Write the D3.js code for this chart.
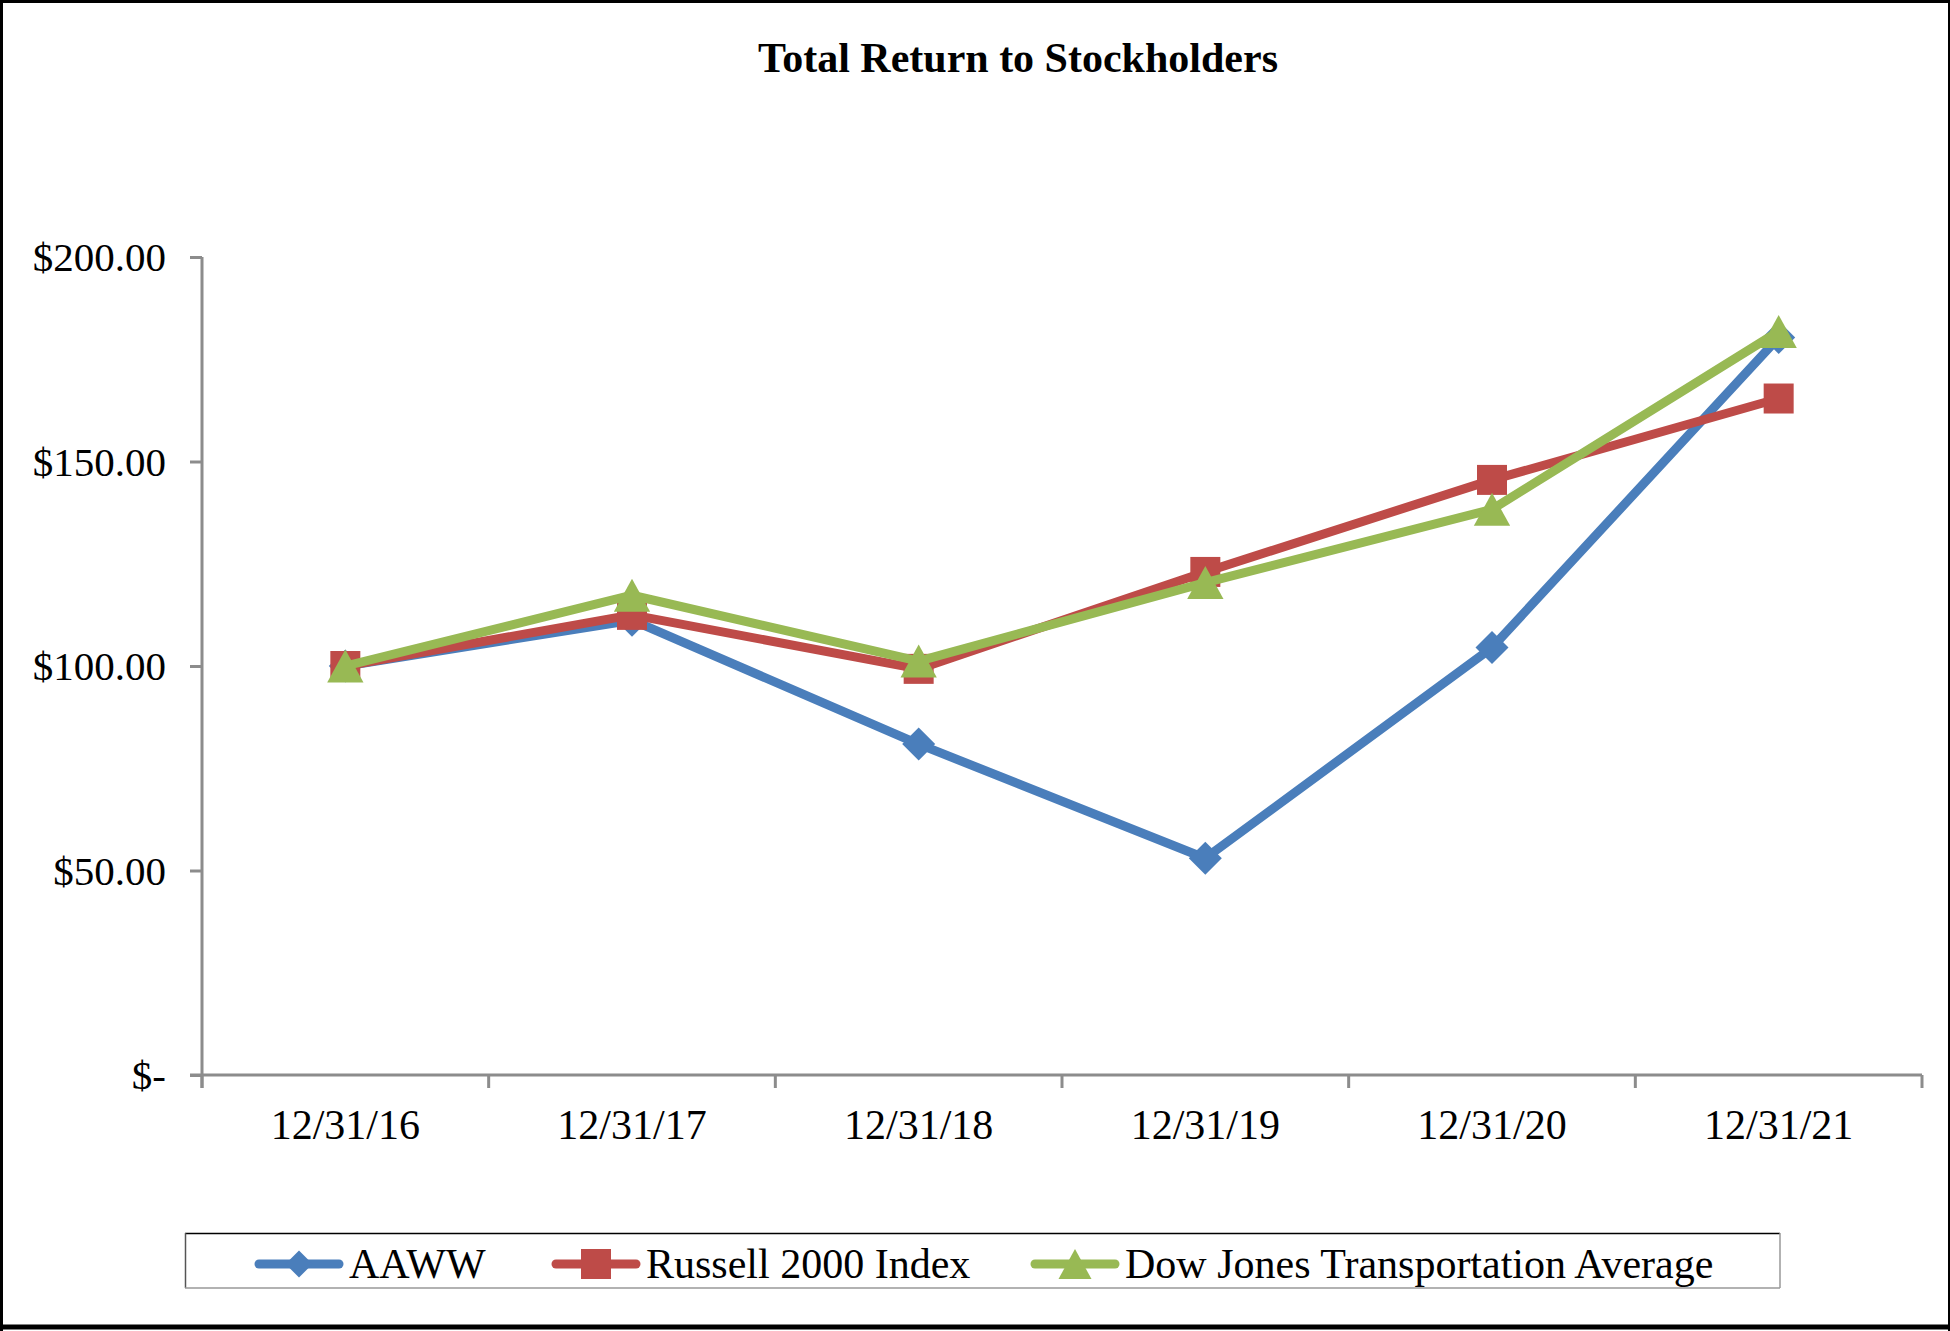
<!DOCTYPE html>
<html>
<head>
<meta charset="utf-8">
<script src="https://cdn.jsdelivr.net/npm/d3@7"></script>
<style>
  html, body { margin: 0; padding: 0; background: #fff; }
  svg { display: block; }
  text { font-family: "Liberation Serif", "Times New Roman", serif; fill: #000; }
</style>
</head>
<body>
<svg id="chart" width="1950" height="1331"></svg>
<script>
const title = "Total Return to Stockholders";
const categories = ["12/31/16", "12/31/17", "12/31/18", "12/31/19", "12/31/20", "12/31/21"];
const aawwValues = [100.00, 111.2, 80.9, 53.0, 104.5, 180.3];
const russellValues = [100.00, 112.5, 99.3, 123.0, 145.5, 165.4];
const dowValues = [100.00, 117.3, 101.2, 120.4, 138.3, 181.8];
const yTicks = [0, 50, 100, 150, 200];
const seriesNames = ["AAWW", "Russell 2000 Index", "Dow Jones Transportation Average"];
const seriesColors = ["#4A7EBB", "#BE4B48", "#98B954"];
const seriesMarkers = ["diamond", "square", "triangle"];

const series = [aawwValues, russellValues, dowValues].map((vals, i) => ({
  name: seriesNames[i], color: seriesColors[i], marker: seriesMarkers[i],
  values: vals.map((v, j) => ({ cat: categories[j], v }))
}));

const svg = d3.select("#chart");
const W = 1950, H = 1331;

// outer border
svg.append("rect").attr("x", 1).attr("y", 1).attr("width", W - 2).attr("height", H - 2)
  .attr("fill", "#fff").attr("stroke", "none");
svg.append("line").attr("x1", 0).attr("x2", W).attr("y1", 1.5).attr("y2", 1.5).attr("stroke", "#000").attr("stroke-width", 3);
svg.append("line").attr("x1", 1.5).attr("x2", 1.5).attr("y1", 0).attr("y2", H).attr("stroke", "#000").attr("stroke-width", 3);
svg.append("line").attr("x1", W - 1).attr("x2", W - 1).attr("y1", 0).attr("y2", H).attr("stroke", "#000").attr("stroke-width", 2);
svg.append("line").attr("x1", 0).attr("x2", W).attr("y1", 1327).attr("y2", 1327).attr("stroke", "#000").attr("stroke-width", 5);

// title
svg.append("text").attr("x", 1018).attr("y", 72).attr("text-anchor", "middle")
  .attr("font-size", 42).attr("font-weight", "bold").text(title);

const plot = { left: 202, right: 1922, top: 257, bottom: 1075 };
const x = d3.scaleBand().domain(categories).range([plot.left, plot.right]).padding(0);
const y = d3.scaleLinear().domain([0, 200]).range([plot.bottom, plot.top]);

const axisColor = "#8C8C8C";

// y axis
const yAxis = svg.append("g").attr("transform", `translate(${plot.left},0)`)
  .call(d3.axisLeft(y).tickValues(yTicks).tickSize(12).tickPadding(24)
    .tickFormat(d => d === 0 ? "$-" : "$" + d3.format(".2f")(d)));
yAxis.select(".domain").attr("stroke", axisColor).attr("stroke-width", 3)
  .attr("d", `M0,${plot.top}V${plot.bottom + 13}`);
yAxis.selectAll(".tick line").attr("stroke", axisColor).attr("stroke-width", 3);
yAxis.selectAll(".tick text").attr("font-size", 41).attr("font-family", "Liberation Serif, serif")
  .attr("fill", "#000").attr("dy", "0.33em");

// x axis
const xAxis = svg.append("g").attr("transform", `translate(0,${plot.bottom})`)
  .call(d3.axisBottom(x).tickSize(0).tickPadding(62));
xAxis.select(".domain").attr("stroke", axisColor).attr("stroke-width", 3)
  .attr("d", `M${plot.left - 12},0H${plot.right}`);
xAxis.selectAll(".tick text").attr("font-size", 42).attr("font-family", "Liberation Serif, serif")
  .attr("fill", "#000").attr("dy", "0.05em");
// category boundary ticks
const bounds = categories.map(c => x(c)).concat([plot.right]);
svg.append("g").selectAll("line").data(bounds).join("line")
  .attr("x1", d => d).attr("x2", d => d)
  .attr("y1", plot.bottom).attr("y2", plot.bottom + 13)
  .attr("stroke", axisColor).attr("stroke-width", 3);

function markerPath(type, s) {
  if (type === "diamond") {
    const h = s / 2;
    return `M0,${-h}L${h},0L0,${h}L${-h},0Z`;
  }
  if (type === "square") {
    const h = s / 2;
    return `M${-h},${-h}H${h}V${h}H${-h}Z`;
  }
  const w = s * 1.1 / 2, h = s / 2;
  return `M0,${-h}L${w},${h}L${-w},${h}Z`;
}
const markerSizes = { diamond: 33, square: 30, triangle: 33 };

const line = d3.line().x(d => x(d.cat) + x.bandwidth() / 2).y(d => y(d.v));

series.forEach(s => {
  const g = svg.append("g");
  g.append("path").datum(s.values).attr("d", line)
    .attr("fill", "none").attr("stroke", s.color).attr("stroke-width", 9)
    .attr("stroke-linejoin", "round");
  g.selectAll("path.m").data(s.values).join("path").attr("class", "m")
    .attr("transform", d => `translate(${x(d.cat) + x.bandwidth() / 2},${y(d.v)})`)
    .attr("d", markerPath(s.marker, markerSizes[s.marker]))
    .attr("fill", s.color);
});

// legend
const leg = svg.append("g");
leg.append("rect").attr("x", 185).attr("y", 1233).attr("width", 1595).attr("height", 55)
  .attr("fill", "#fff").attr("stroke", "none");
leg.append("line").attr("x1", 185).attr("x2", 1780).attr("y1", 1233.5).attr("y2", 1233.5).attr("stroke", "#000").attr("stroke-width", 1.5);
leg.append("line").attr("x1", 185.5).attr("x2", 185.5).attr("y1", 1233).attr("y2", 1288).attr("stroke", "#555").attr("stroke-width", 1.5);
leg.append("line").attr("x1", 185).attr("x2", 1780).attr("y1", 1288).attr("y2", 1288).attr("stroke", "#999").attr("stroke-width", 1.5);
leg.append("line").attr("x1", 1780).attr("x2", 1780).attr("y1", 1233).attr("y2", 1288).attr("stroke", "#999").attr("stroke-width", 1.5);

const legendX = [255, 552, 1031];
series.forEach((s, i) => {
  const lx = legendX[i], ly = 1264;
  leg.append("line").attr("x1", lx + 4).attr("x2", lx + 84).attr("y1", ly).attr("y2", ly)
    .attr("stroke", s.color).attr("stroke-width", 9).attr("stroke-linecap", "round");
  leg.append("path").attr("transform", `translate(${lx + 44},${ly})`)
    .attr("d", markerPath(s.marker, s.marker === "diamond" ? 27 : 30)).attr("fill", s.color);
  leg.append("text").attr("x", lx + 94).attr("y", ly).attr("dy", "0.34em")
    .attr("font-size", 42).text(s.name);
});
</script>
</body>
</html>
